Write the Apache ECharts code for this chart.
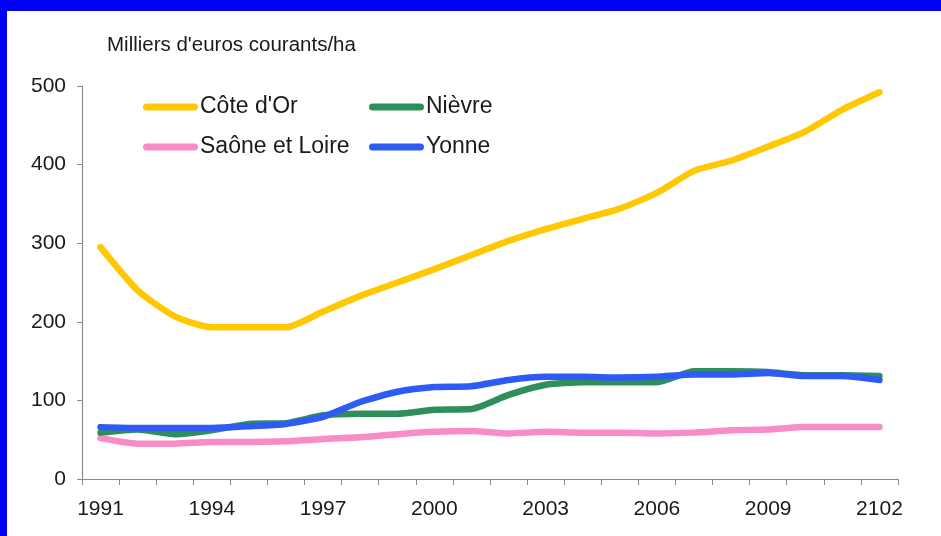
<!DOCTYPE html>
<html>
<head>
<meta charset="utf-8">
<script src="https://cdn.jsdelivr.net/npm/echarts@6/dist/echarts.min.js"></script>
<style>
html,body{margin:0;padding:0;background:#fff;}
#chart{width:941px;height:536px;}
</style>
</head>
<body>
<div id="chart"></div>
<script>
const years = ['1991','1992','1993','1994','1995','1996','1997','1998','1999','2000','2001','2002','2003','2004','2005','2006','2007','2008','2009','2010','2011','2102'];
const coteDOr = [295,240,207,193,193,193,213,233,250,267,285,303,318,331,344,364,392,405,423,442,470,492];
const nievre = [59,63,57,62,70,71,81,83,83,88,89,107,120,123,123,123,137,137,136,132,132,131];
const saoneEtLoire = [52,45,45,47,47,48,51,53,57,60,61,58,60,59,59,58,59,62,63,66,66,66];
const yonne = [66,65,65,65,67,70,79,98,111,117,118,126,130,130,129,130,133,133,135,131,131,126];
const yTicks = [0,100,200,300,400,500];

const colors = {
  'Côte d\'Or': '#FFC800',
  'Nièvre': '#2E8F5C',
  'Saône et Loire': '#F78CC6',
  'Yonne': '#2F5BF5'
};
const font = 'Liberation Sans, Arial, Helvetica, sans-serif';
const icon = 'path://M3.5,0H51.5A3.5,3.5 0 0 1 51.5,7H3.5A3.5,3.5 0 0 1 3.5,0Z';

function mk(name, data, z) {
  return {
    name: name, type: 'line', data: data, z: z,
    smooth: 0.2, symbol: 'none',
    lineStyle: {width: 6.5, color: colors[name], cap: 'round', join: 'round'},
    itemStyle: {color: colors[name]}
  };
}

const legendCommon = {
  orient: 'vertical', icon: icon, itemWidth: 55, itemHeight: 7, itemGap: 16,
  top: 95, padding: 0,
  textStyle: {fontFamily: font, fontSize: 23, color: '#1a1a1a', lineHeight: 24, padding: [0,0,0,-3]}
};

const chart = echarts.init(document.getElementById('chart'));
chart.setOption({
  backgroundColor: '#fff',
  animation: false,
  title: {
    text: 'Milliers d\'euros courants/ha', left: 107, top: 35, padding: 0,
    textStyle: {fontFamily: font, fontSize: 20.5, fontWeight: 'normal', color: '#1a1a1a'}
  },
  graphic: [
    {type: 'rect', shape: {x: 0, y: 0, width: 941, height: 11}, style: {fill: '#0000F5'}, z: 100},
    {type: 'rect', shape: {x: 0, y: 0, width: 7, height: 536}, style: {fill: '#0000F5'}, z: 100}
  ],
  legend: [
    Object.assign({}, legendCommon, {left: 143, data: ['Côte d\'Or', 'Saône et Loire']}),
    Object.assign({}, legendCommon, {left: 369, data: ['Nièvre', 'Yonne']})
  ],
  grid: {left: 82, right: 43, top: 86, bottom: 57},
  xAxis: {
    type: 'category', data: years, boundaryGap: true,
    axisLine: {lineStyle: {color: '#8a8a8a', width: 1.2}},
    axisTick: {show: true, interval: 0, length: 6, lineStyle: {color: '#8a8a8a'}},
    axisLabel: {interval: 2, margin: 20, fontFamily: font, fontSize: 21, color: '#1a1a1a'}
  },
  yAxis: {
    type: 'value', min: 0, max: 500, interval: 100,
    axisLine: {show: true, lineStyle: {color: '#8a8a8a', width: 1.2}},
    axisTick: {show: true, length: 5, lineStyle: {color: '#8a8a8a'}},
    splitLine: {show: false},
    axisLabel: {margin: 16, fontFamily: font, fontSize: 21, color: '#1a1a1a',
      formatter: function (v) { return yTicks.indexOf(v) >= 0 ? String(v) : ''; }}
  },
  series: [
    mk('Côte d\'Or', coteDOr, 2),
    mk('Saône et Loire', saoneEtLoire, 2),
    mk('Nièvre', nievre, 3),
    mk('Yonne', yonne, 4)
  ]
});
</script>
</body>
</html>
